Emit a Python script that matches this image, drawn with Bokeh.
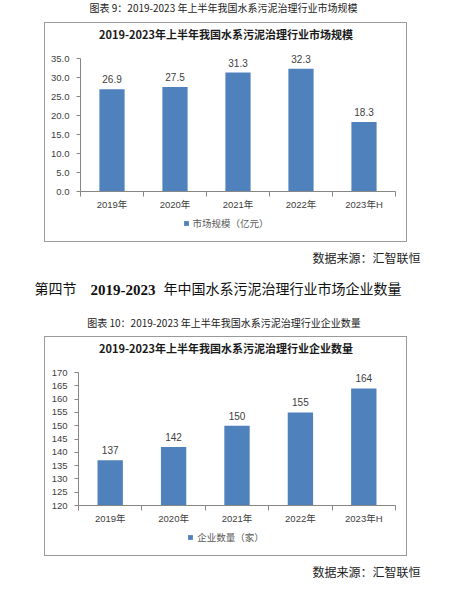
from bokeh.plotting import figure
from bokeh.models import (Range1d, FixedTicker, Label, Legend, LegendItem,
                          ColumnDataSource, LabelSet, Spacer)
from bokeh.layouts import column, row
from bokeh.embed import file_html
from bokeh.resources import INLINE
from bokeh.core.properties import value

# ---------------- data ----------------
categories = ["2019年", "2020年", "2021年", "2022年", "2023年H"]
market_size = [26.9, 27.5, 31.3, 32.3, 18.3]
company_count = [137, 142, 150, 155, 164]
y1_ticks = [0, 5, 10, 15, 20, 25, 30, 35]
y2_ticks = [120, 125, 130, 135, 140, 145, 150, 155, 160, 165, 170]

caption1 = "图表 9：2019-2023 年上半年我国水系污泥治理行业市场规模"
title1 = "2019-2023年上半年我国水系污泥治理行业市场规模"
legend1 = "市场规模（亿元）"
caption2 = "图表 10：2019-2023 年上半年我国水系污泥治理行业企业数量"
title2 = "2019-2023年上半年我国水系污泥治理行业企业数量"
legend2 = "企业数量（家）"
source_text = "数据来源：汇智联恒"
heading_a = "第四节"
heading_b = "2019-2023"
heading_c = "年中国水系污泥治理行业市场企业数量"

# ---------------- styles ----------------
BAR = "#4F81BD"
AXIS = "#868686"
TXT = "#404040"
SANS = "'Liberation Sans', 'Noto Sans CJK SC'"
CJK = "'Noto Sans CJK SC'"
SERIF = "'Liberation Serif', 'Noto Sans CJK SC'"
PAGE_W = 460
BOX_W = 361


def text_fig(w, h, items):
    p = figure(width=w, height=h, x_range=Range1d(0, w), y_range=Range1d(0, h),
               toolbar_location=None, output_backend="svg", min_border=0, title=None,
               x_axis_location=None, y_axis_location=None)
    p.grid.visible = False
    p.outline_line_color = None
    for txt, x, y, size, font, style, color, align in items:
        p.add_layout(Label(x=x, y=h - y, x_units="screen", y_units="screen", text=txt,
                           text_font=font, text_font_size=size, text_font_style=style,
                           text_color=color, text_align=align, text_baseline="middle"))
    return p


def chart_box(vals, ticks, fmt, title, legend_text, left):
    # in a column Bokeh aligns the frames of the plots, so the strips' frames start at `left`
    title_fig = text_fig(BOX_W, 22, [(title, BOX_W / 2 - left, 10, "11px", CJK, "bold", "#1a1a1a", "center")])

    # bar chart
    h = 172
    top_b, right_b, tick_top, bottom_b = 5, 11, 13, 26
    n = len(categories)
    xs = [i + 0.5 for i in range(n)]
    frame_h = h - top_b - bottom_b
    axis_px = h - bottom_b - tick_top
    y_end = ticks[0] + (ticks[-1] - ticks[0]) * frame_h / axis_px
    src = ColumnDataSource(dict(x=xs, top=vals, label=[fmt.format(v) for v in vals]))
    p = figure(width=BOX_W, height=h, x_range=Range1d(0, n), y_range=Range1d(ticks[0], y_end),
               toolbar_location=None, output_backend="svg", title=None,
               min_border_left=left, min_border_right=right_b,
               min_border_top=top_b, min_border_bottom=bottom_b)
    p.grid.visible = False
    p.outline_line_color = None
    p.vbar(x="x", top="top", bottom=ticks[0], width=0.4, source=src,
           fill_color=BAR, line_color=None)
    p.add_layout(LabelSet(x="x", y="top", text="label", source=src, y_offset=10,
                          text_align="center", text_baseline="middle",
                          text_font=value(SANS), text_font_size="10px", text_color=TXT))
    p.xaxis.ticker = FixedTicker(ticks=xs, minor_ticks=list(range(n + 1)))
    p.xaxis.major_label_overrides = {x: c for x, c in zip(xs, categories)}
    p.xaxis.major_tick_out = 0
    p.xaxis.major_tick_in = 0
    p.xaxis.minor_tick_out = 5
    p.xaxis.minor_tick_in = 0
    p.xaxis.minor_tick_line_color = AXIS
    p.xaxis.major_label_standoff = 2
    p.yaxis.ticker = FixedTicker(ticks=ticks)
    p.yaxis.bounds = (ticks[0], ticks[-1])
    p.yaxis.major_label_overrides = {t: fmt.format(t) for t in ticks}
    p.yaxis.major_tick_out = 4
    p.yaxis.major_tick_in = 0
    p.yaxis.minor_tick_line_color = None
    p.yaxis.major_label_standoff = 7
    for ax in (p.xaxis, p.yaxis):
        ax.axis_line_color = AXIS
        ax.major_tick_line_color = AXIS
        ax.major_label_text_font = SANS
        ax.major_label_text_font_size = "9.5px"
        ax.major_label_text_color = TXT

    # legend strip: the key is the same bar series, hidden (legend still draws its swatch)
    lh = 24
    lf = figure(width=BOX_W, height=lh, x_range=Range1d(1000, 1001), y_range=Range1d(-1001, -1000),
                toolbar_location=None, output_backend="svg", min_border=0, title=None,
                x_axis_location=None, y_axis_location=None)
    lf.grid.visible = False
    lf.outline_line_color = None
    key = lf.vbar(x="x", top="top", bottom=ticks[0], width=0.4, source=src,
                  fill_color=BAR, line_color=None)
    key.visible = False
    glyph_w, standoff, fsize = 6, 4, 9.5
    content_w = glyph_w + standoff + fsize * len(legend_text)
    lf.add_layout(Legend(items=[LegendItem(label=legend_text, renderers=[key])],
                         location=(BOX_W / 2 - content_w / 2 - left, lh - 8 - 5),
                         orientation="horizontal", inactive_fill_alpha=0,
                         glyph_width=glyph_w, glyph_height=6, label_height=10, label_standoff=standoff,
                         padding=0, margin=0, border_line_color=None, background_fill_alpha=0,
                         label_text_font=CJK, label_text_font_size="9.5px", label_text_color="#595959"))

    box = column(title_fig, p, lf)
    box.styles = {"border": "1px solid #9a9a9a"}
    return box


cap1 = text_fig(PAGE_W, 22, [(caption1, 223, 7, "10px", CJK, "normal", "#222222", "center")])
chart1 = chart_box(market_size, y1_ticks, "{:.1f}", title1, legend1, 35)
src1 = text_fig(PAGE_W, 30, [(source_text, 420, 16, "12px", SERIF, "normal", "#222222", "right")])
head = text_fig(PAGE_W, 35, [(heading_a, 34, 17, "14px", SERIF, "normal", "#111111", "left"),
                             (heading_b, 90, 17, "15px", SERIF, "bold", "#111111", "left"),
                             (heading_c, 163, 17, "14px", SERIF, "normal", "#111111", "left")])
cap2 = text_fig(PAGE_W, 29, [(caption2, 223.5, 15, "10px", CJK, "normal", "#222222", "center")])
chart2 = chart_box(company_count, y2_ticks, "{:.0f}", title2, legend2, 33)
src2 = text_fig(PAGE_W, 36, [(source_text, 420, 16, "12px", SERIF, "normal", "#222222", "right")])

page = column(cap1, row(Spacer(width=44), chart1), src1, head, cap2,
              row(Spacer(width=44), chart2), src2)

open("out.html", "w").write(file_html(page, INLINE))
